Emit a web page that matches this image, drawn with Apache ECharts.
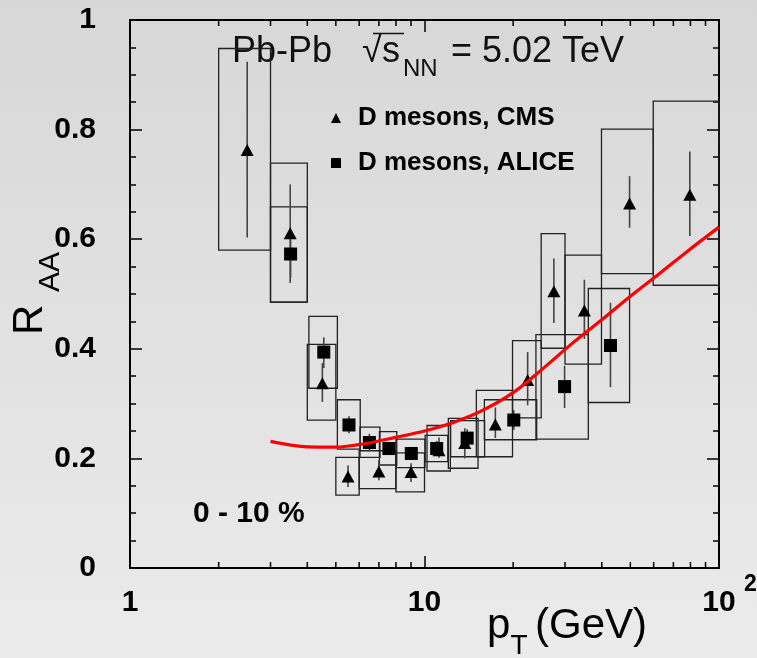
<!DOCTYPE html>
<html><head><meta charset="utf-8">
<script src="https://cdn.jsdelivr.net/npm/echarts@6/dist/echarts.min.js"></script>
<style>html,body{margin:0;padding:0;background:#e0e0e0;}#c{width:757px;height:658px;}</style>
</head><body><div id="c"></div>
<script>
// ---- CMS D mesons ----
const cmsPt      = [2.5, 3.5, 4.5, 5.5, 7.0, 9.0, 11.2, 13.7, 17.4, 22.4, 27.5, 34.9, 49.7, 79.6];
const cmsRaa     = [0.763, 0.611, 0.337, 0.167, 0.176, 0.175, 0.215, 0.228, 0.262, 0.343, 0.505, 0.470, 0.665, 0.681];
const cmsStatLo  = [0.603, 0.520, 0.303, 0.148, 0.160, 0.157, 0.201, 0.200, 0.237, 0.297, 0.447, 0.418, 0.621, 0.606];
const cmsStatHi  = [0.924, 0.700, 0.374, 0.187, 0.197, 0.191, 0.238, 0.255, 0.293, 0.394, 0.565, 0.526, 0.715, 0.760];
const cmsBinLo   = [2.0, 3.0, 4.0, 5.0, 6.0, 8.0, 10.2, 12.05, 15.0, 19.9, 24.9, 30.0, 39.9, 59.8];
const cmsBinHi   = [3.0, 4.0, 5.0, 6.0, 8.0, 10.0, 12.24, 15.2, 19.9, 24.9, 30.0, 39.9, 59.8, 100];
const cmsSysLo   = [0.580, 0.485, 0.270, 0.133, 0.145, 0.139, 0.177, 0.182, 0.203, 0.274, 0.401, 0.372, 0.537, 0.516];
const cmsSysHi   = [0.948, 0.739, 0.408, 0.202, 0.214, 0.210, 0.260, 0.273, 0.324, 0.415, 0.610, 0.571, 0.801, 0.852];

// ---- ALICE D mesons ----
const alicePt     = [3.51, 4.55, 5.54, 6.5, 7.57, 9.02, 11.0, 13.96, 20.1, 29.9, 42.8];
const aliceRaa    = [0.573, 0.394, 0.261, 0.229, 0.218, 0.209, 0.218, 0.237, 0.270, 0.331, 0.406];
const aliceStatLo = [0.530, 0.365, 0.246, 0.214, 0.208, 0.199, 0.205, 0.220, 0.252, 0.292, 0.330];
const aliceStatHi = [0.610, 0.421, 0.277, 0.245, 0.228, 0.218, 0.232, 0.253, 0.288, 0.369, 0.484];
const aliceBinLo  = [3.0, 4.05, 5.06, 6.04, 7.03, 8.0, 10.05, 12.27, 15.97, 23.9, 36.0];
const aliceBinHi  = [4.0, 5.06, 6.05, 7.06, 8.05, 10.04, 12.0, 16.0, 24.04, 36.0, 49.7];
const aliceSysLo  = [0.485, 0.328, 0.217, 0.202, 0.188, 0.183, 0.194, 0.203, 0.234, 0.235, 0.302];
const aliceSysHi  = [0.659, 0.459, 0.307, 0.257, 0.249, 0.235, 0.242, 0.269, 0.307, 0.426, 0.510];

// ---- model curve ----
const curvePt  = [3.0, 4.0, 5.0, 6.3, 7.9, 10, 12.6, 15.8, 20, 25, 31.6, 40, 50, 63, 79, 100];
const curveRaa = [0.231, 0.221, 0.2205, 0.227, 0.238, 0.250, 0.266, 0.288, 0.320, 0.362, 0.409, 0.453, 0.496, 0.538, 0.580, 0.622];

// ---- axes ----
const xMinorTicks = [2,3,4,5,6,7,8,9,20,30,40,50,60,70,80,90];

const F = '"Liberation Sans", Arial, Helvetica, sans-serif';
const chart = echarts.init(document.getElementById('c'), null, {renderer:'canvas'});

function boxes(lo, hi, ylo, yhi){ return lo.map((v,i)=>[v, hi[i], ylo[i], yhi[i]]); }
function errs(x, lo, hi){ return x.map((v,i)=>[v, lo[i], hi[i]]); }

const boxRender = function(params, api){
  const p1 = api.coord([api.value(0), api.value(3)]);
  const p2 = api.coord([api.value(1), api.value(2)]);
  return {type:'rect', shape:{x:p1[0], y:p1[1], width:p2[0]-p1[0], height:p2[1]-p1[1]},
          style:{fill:'none', stroke:'#222', lineWidth:1.3}};
};
const errRender = function(params, api){
  const a = api.coord([api.value(0), api.value(1)]);
  const b = api.coord([api.value(0), api.value(2)]);
  return {type:'line', shape:{x1:a[0], y1:a[1], x2:b[0], y2:b[1]},
          style:{stroke:'#444', lineWidth:1.6}};
};
const minorRender = function(params, api){
  const b = api.coord([api.value(0), 0]);
  const t = api.coord([api.value(0), 1]);
  return {type:'group', children:[
    {type:'line', shape:{x1:b[0], y1:b[1], x2:b[0], y2:b[1]-6}, style:{stroke:'#000', lineWidth:1.5}},
    {type:'line', shape:{x1:t[0], y1:t[1], x2:t[0], y2:t[1]+6}, style:{stroke:'#000', lineWidth:1.5}}
  ]};
};

const axisLine = {show:true, onZero:false, lineStyle:{color:'#000', width:2}};
const tick = {show:true, inside:true, length:12, lineStyle:{color:'#000', width:1.5}};

const option = {
  backgroundColor: new echarts.graphic.LinearGradient(0,0,0,1,[{offset:0,color:'#d7d7d7'},{offset:1,color:'#ebebeb'}]),
  animation:false,
  grid:{left:130, top:20, width:589, height:548, show:false},
  legend:{
    orient:'vertical', left:331, top:105, padding:0, itemWidth:10, itemHeight:10, itemGap:19,
    selectedMode:false,
    textStyle:{fontSize:26, fontWeight:'bold', color:'#000', fontFamily:F, padding:[0,0,0,12]},
    data:[{name:'D mesons, CMS', icon:'triangle'}, {name:'D mesons, ALICE', icon:'rect'}]
  },
  xAxis:[
    {type:'log', logBase:10, min:1, max:100, position:'bottom', axisLine, axisTick:tick,
     splitLine:{show:false},
     axisLabel:{fontSize:30, fontWeight:'bold', color:'#000', fontFamily:F, margin:20,
       formatter:function(v){ return v>=99 ? '10' : String(Math.round(v)); }}},
    {type:'log', logBase:10, min:1, max:100, position:'top', axisLine, axisTick:tick,
     splitLine:{show:false}, axisLabel:{show:false}}
  ],
  yAxis:[
    {type:'value', min:0, max:1, interval:0.2, position:'left', axisLine, axisTick:tick,
     minorTick:{show:true, splitNumber:4, length:6, lineStyle:{color:'#000', width:1.5}},
     splitLine:{show:false},
     axisLabel:{fontSize:30, fontWeight:'bold', color:'#000', fontFamily:F, margin:34,
       formatter:function(v){ return (v===0||v===1)? String(v) : v.toFixed(1); }}},
    {type:'value', min:0, max:1, interval:0.2, position:'right', axisLine, axisTick:tick,
     minorTick:{show:true, splitNumber:4, length:6, lineStyle:{color:'#000', width:1.5}},
     splitLine:{show:false}, axisLabel:{show:false}}
  ],
  series:[
    {type:'custom', renderItem:minorRender, data:xMinorTicks.map(v=>[v]), encode:{x:0}, silent:true, z:5},
    {type:'custom', renderItem:boxRender, data:boxes(cmsBinLo, cmsBinHi, cmsSysLo, cmsSysHi), encode:{x:[0,1], y:[2,3]}, z:2},
    {type:'custom', renderItem:boxRender, data:boxes(aliceBinLo, aliceBinHi, aliceSysLo, aliceSysHi), encode:{x:[0,1], y:[2,3]}, z:2},
    {type:'custom', renderItem:errRender, data:errs(cmsPt, cmsStatLo, cmsStatHi), encode:{x:0, y:[1,2]}, z:3},
    {type:'custom', renderItem:errRender, data:errs(alicePt, aliceStatLo, aliceStatHi), encode:{x:0, y:[1,2]}, z:3},
    {name:'D mesons, CMS', type:'scatter', symbol:'triangle', symbolSize:[13,12], itemStyle:{color:'#000', opacity:1},
     data:cmsPt.map((v,i)=>[v, cmsRaa[i]]), z:4},
    {name:'D mesons, ALICE', type:'scatter', symbol:'rect', symbolSize:13, itemStyle:{color:'#000', opacity:1},
     data:alicePt.map((v,i)=>[v, aliceRaa[i]]), z:4},
    {type:'line', data:curvePt.map((v,i)=>[v, curveRaa[i]]), smooth:0.3, showSymbol:false,
     lineStyle:{color:'#ff0000', width:3.2}, z:6, silent:true}
  ],
  graphic:[
    {id:'t1', type:'text', x:232, y:52.5, style:{text:'Pb-Pb', font:'36px '+F, fill:'#111', align:'left', verticalAlign:'middle'}},
    {id:'t2', type:'text', x:362, y:52.5, style:{text:'\u221A', font:'36px '+F, fill:'#111', align:'left', verticalAlign:'middle'}},
    {id:'t3', type:'text', x:382, y:52.5, style:{text:'s', font:'36px '+F, fill:'#111', align:'left', verticalAlign:'middle'}},
    {id:'t4', type:'text', x:403, y:69.7, style:{text:'NN', font:'24px '+F, fill:'#111', align:'left', verticalAlign:'middle'}},
    {id:'t5', type:'text', x:451, y:52.5, style:{text:'= 5.02 TeV', font:'36px '+F, fill:'#111', align:'left', verticalAlign:'middle'}},
    {id:'t6', type:'line', shape:{x1:373, y1:33.5, x2:404, y2:33.5}, style:{stroke:'#111', lineWidth:1.5}},
    {id:'t7', type:'text', x:193, y:514, style:{text:'0 - 10 %', font:'bold 30px '+F, fill:'#000', align:'left', verticalAlign:'middle'}},
    {id:'t8', type:'text', x:487, y:626.5, style:{text:'p', font:'42px '+F, fill:'#000', align:'left', verticalAlign:'middle'}},
    {id:'t9', type:'text', x:510.5, y:646, style:{text:'T', font:'28px '+F, fill:'#000', align:'left', verticalAlign:'middle'}},
    {id:'t10', type:'text', x:535, y:626.5, style:{text:'(GeV)', font:'42px '+F, fill:'#000', align:'left', verticalAlign:'middle'}},
    {id:'t11', type:'text', x:30.5, y:335, rotation:Math.PI/2, style:{text:'R', font:'42px '+F, fill:'#000', align:'left', verticalAlign:'middle'}},
    {id:'t12', type:'text', x:51, y:292, rotation:Math.PI/2, style:{text:'AA', font:'30px '+F, fill:'#000', align:'left', verticalAlign:'middle'}}
  ]
};
chart.setOption(option);
// superscript of the 10^2 tick label, placed from the axis scale
const px100 = chart.convertToPixel({xAxisIndex:0}, 100);
const pyAxis = chart.convertToPixel({yAxisIndex:0}, 0);
chart.setOption({graphic:[{id:'sup2', type:'text', x:px100+25, y:pyAxis+16.5, style:{text:'2', font:'bold 23px '+F, fill:'#000', align:'left', verticalAlign:'middle'}}]});
</script></body></html>
